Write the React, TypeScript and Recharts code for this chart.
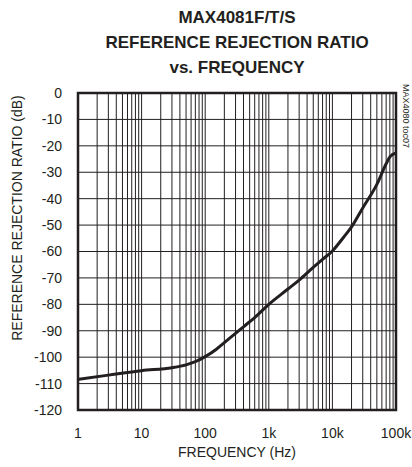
import { CartesianGrid, Line, LineChart, ReferenceArea, ReferenceLine, XAxis, YAxis } from "recharts";

const freqHz = [1, 3, 10, 30, 50, 70, 100, 150, 200, 300, 400, 600, 1000, 2000, 3000, 5000, 7000, 10000, 15000, 20000, 30000, 50000, 70000, 80000, 100000];
const rejectionDb = [-108.4, -106.8, -105.1, -104, -102.9, -101.7, -99.8, -97, -94.5, -91, -88.5, -85, -80, -74.2, -70.8, -66, -63, -59.8, -54.6, -50.7, -43.5, -34.6, -26.8, -24.2, -22.7];

const xTicks = [1, 10, 100, 1000, 10000, 100000];
const xTickLabels = ["1", "10", "100", "1k", "10k", "100k"];
const yTicks = [0, -10, -20, -30, -40, -50, -60, -70, -80, -90, -100, -110, -120];

// 2..10 in every decade for the log grid
const xGrid: number[] = [];
for (let d = 1; d <= 10000; d *= 10) {
  for (let m = 2; m <= 10; m++) xGrid.push(m * d);
}

const data = freqHz.map((f, i) => ({ f, rr: rejectionDb[i] }));

const ink = "#231f20";
const font = "'Liberation Sans', Arial, sans-serif";

export default function App() {
  return (
    <div style={{ position: "absolute", left: 0, top: 0, width: 412, height: 467, fontFamily: font, color: ink }}>
      <LineChart width={412} height={467} data={data} margin={{ top: 93, right: 16, left: 18, bottom: 27 }}>
        <CartesianGrid vertical={false} horizontalValues={yTicks} stroke={ink} strokeWidth={1} />
        <XAxis
          dataKey="f"
          type="number"
          scale="log"
          domain={[1, 100000]}
          ticks={xTicks}
          tickFormatter={(v) => xTickLabels[xTicks.indexOf(v)] ?? String(v)}
          axisLine={false}
          tickLine={false}
          tickSize={0}
          tickMargin={18}
          height={30}
          allowDataOverflow
          tick={{ fontSize: 14, fill: ink, fontFamily: font }}
        />
        <YAxis
          type="number"
          domain={[-120, 0]}
          ticks={yTicks}
          axisLine={false}
          tickLine={false}
          tickSize={0}
          tickMargin={16}
          width={60}
          interval={0}
          tick={{ fontSize: 14, fill: ink, fontFamily: font }}
        />
        {xGrid.map((g) => (
          <ReferenceLine key={g} x={g} stroke={ink} strokeWidth={1} />
        ))}
        <ReferenceArea x1={1} x2={100000} y1={-120} y2={0} fill="none" stroke={ink} strokeWidth={2.5} />
        <Line type="monotone" dataKey="rr" stroke={ink} strokeWidth={3} dot={false} isAnimationActive={false} />
      </LineChart>
      <div style={{ position: "absolute", left: 78, top: 5, width: 318, textAlign: "center", fontWeight: "bold", fontSize: 17, lineHeight: "25px" }}>
        MAX4081F/T/S
        <br />
        REFERENCE REJECTION RATIO
        <br />
        vs. FREQUENCY
      </div>
      <div
        style={{
          position: "absolute",
          left: -133,
          top: 210,
          width: 300,
          height: 16,
          lineHeight: "16px",
          fontSize: 14,
          textAlign: "center",
          transform: "rotate(-90deg)",
          whiteSpace: "nowrap",
        }}
      >
        REFERENCE REJECTION RATIO (dB)
      </div>
      <div style={{ position: "absolute", left: 78, top: 444, width: 318, textAlign: "center", fontSize: 14, lineHeight: "16px" }}>
        FREQUENCY (Hz)
      </div>
      <div
        style={{
          position: "absolute",
          left: 366,
          top: 111,
          width: 80,
          height: 10,
          lineHeight: "10px",
          fontSize: 9,
          textAlign: "center",
          transform: "rotate(90deg)",
          whiteSpace: "nowrap",
        }}
      >
        MAX4080 toc07
      </div>
    </div>
  );
}
